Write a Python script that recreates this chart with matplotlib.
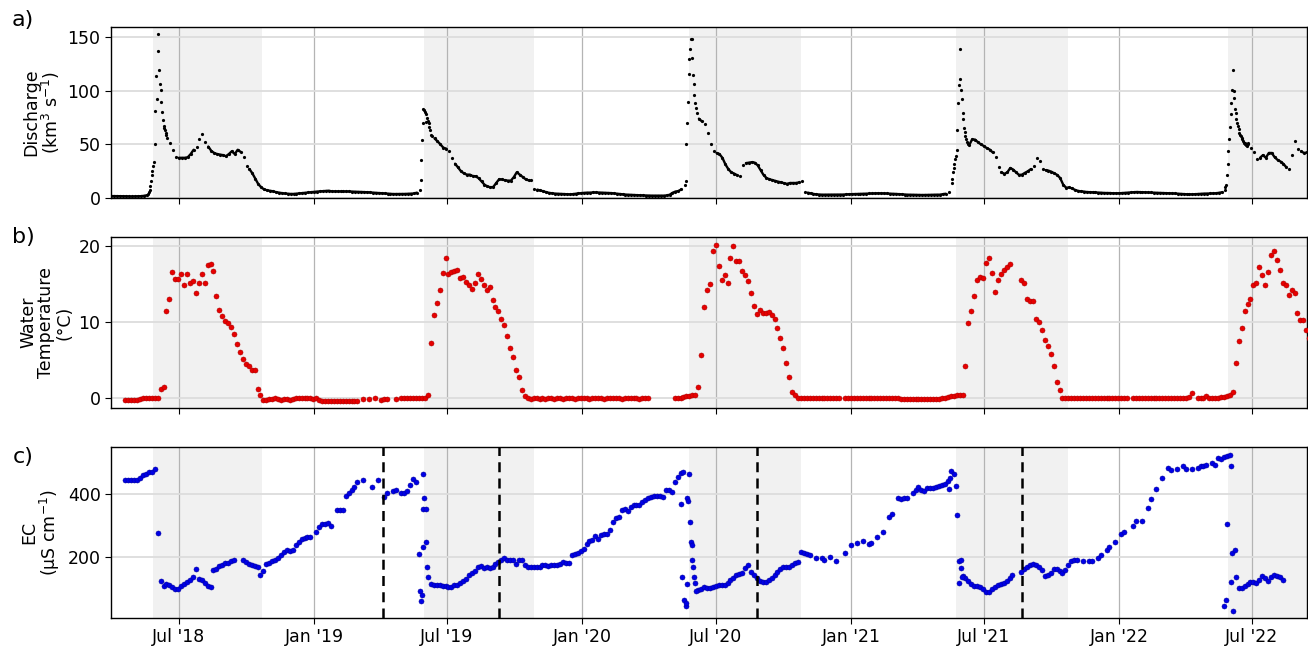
import numpy as np
import pandas as pd
import matplotlib
matplotlib.use("Agg")
import matplotlib.pyplot as plt
import matplotlib.dates as mdates

nan = np.nan

# ---------------- data ----------------
# Discharge (km3 s-1), sampled every 4 days from 2018-03-31 (NaN = freshet, given daily below)
q_start = "2018-03-31"
q_values = [
    1.8, 1.8, 1.7, 1.7, 1.6, 1.5, 1.4, 1.4, 1.5, 1.6, 1.7, 2.0, 2.5,
    nan, nan, nan, nan, nan, nan, nan,
    51, 45, 38, 37.5, 37.5, 37.5, 38, 41, 45, 48, 55, 60, 52, 48, 44, 42, 41, 40.5, 40, 39,
    41, 43.6, 41, 45, 43, 38, 30, 27, 23, 18, 13, 10, 8, 7.2, 6.8, 6.3, 5.5, 5, 4.6, 4.2,
    4, 3.8, 3.8, 4, 4.3, 4.6, 4.9, 5.2, 5.5, 5.7, 6, 6.2, 6.4, 6.6, 6.8,
    6.2, 6.2, 6.2, 6.2, 6.2, 6.1, 6.1, 6.0, 5.9, 5.8, 5.7, 5.6, 5.4, 5.2, 5.0, 4.8, 4.6,
    4.4, 4.2, 4.0, 3.8, 3.7, 3.7, 3.7, 3.8, 3.8, 3.9, 4.0, 4.2, 5.0,
    nan, nan, nan, nan, nan,
    55.5, 53, 50, 47, 46, 44, 37, 32, 28.5, 25, 23, 21.8, 21.8, 20.5, 20.3, 18.5, 15.5,
    12.5, 10.8, 10, 10.3, 14, 17.5, 17.3, 16.5, 16.2, 16.2, 19.5, 24, 21.8, 19.5, 17.5,
    16.5, 16.8,
    8.7, 7.8, 7.0, 6.2, 5.5, 4.8, 4.4, 4.1, 4.0, 3.8, 3.7, 3.5, 3.4, 3.6, 4.0, 4.3, 4.6,
    4.8, 5.0, 5.0, 5.2, 5.2, 5.1, 5.0, 5.0, 4.8, 4.6, 4.3, 4.0, 3.6, 3.4, 3.2, 3.1, 3.0,
    2.8, 2.6, 2.5, 2.4, 2.3, 2.2, 2.2, 2.2, 2.2,
    2.2, 2.2, 2.4, 3.0, 4.8, 6.0, 6.5, 8.0,
    nan, nan, nan, nan, nan,
    74, 71.5, 69, 60.5, 50, 43.6, 42, 41, 37.5, 31.5, 27, 24, 22.8, 21.3, 20.3, 31, 32.5,
    33, 33.4, 33, 30.5, 26, 21.5, 18.7, 17.5, 16.7, 16, 15.2, 14.6, 13.8, 13.2, 14, 14,
    14, 14.5, 15.5,
    6.0, 5.0, 4.4, 3.8, 3.4, 3.2, 3.1, 3.1, 3.1, 3.1, 3.1, 3.1, 3.1, 3.2, 3.4, 3.5, 3.6,
    3.7, 3.8, 4.0, 4.1, 4.1, 4.2, 4.3, 4.3, 4.4, 4.4, 4.3, 4.2, 4.0, 4.0, 3.8, 3.6, 3.4,
    3.2, 3.1, 3.1, 3.0, 2.9, 2.9, 2.8, 2.8, 2.9, 3.0, 3.0, 3.1, 3.1, 3.5, 4.0, 5.3, 14,
    nan, nan, nan, nan, nan,
    49.3, 54.6, 54.5, 52, 50, 48.5, 46.5, 45.2,
    42.5, 38.5, 29, 24, 22.5, 24, 28, 26.5, 23.8, 21.5, 21.8, 23.5, 25, 27, 30, 37.4,
    34.5, 27, 26, 25.5, 24.5, 23, 21.5, 18.5, 12.5, 9.6, 9.8, 9.0, 7.6, 6.7, 6.2, 6.0,
    5.6, 5.4, 5.3, 5.2, 5.0, 4.9, 4.7, 4.7, 4.6, 4.4, 4.4, 4.4, 4.6, 4.8, 5.1, 5.3, 5.5,
    5.6, 5.5, 5.3, 5.3, 5.3, 5.2, 5.1, 5.0, 4.9, 4.7, 4.6, 4.4, 4.3, 4.2, 4.0, 3.9, 3.7,
    3.5, 3.4, 3.4, 3.6, 3.7, 3.9, 4.1, 4.1, 4.2, 4.3, 4.4, 4.8, 5.3,
    nan, nan, nan, nan, nan, nan, nan, nan, nan,
    47, 43, 36.5, 37.5, 40, 37.5, 42, 42, 38, 35.5, 34, 31.8, 28.5, 27.5, 40, 53, 46,
    43.5, 42, 42.5,
]

# Daily discharge during the spring freshets
q_peak_2018_start = "2018-05-20"
q_peak_2018 = [4, 5.5, 7.5, 11, 16, 21, 25, 30, 34, 50, 81, 114, 92, 153, 137, 119, 106,
               101, 90, 80, 73, 67, 65, 63, 61, 59, 56]
q_peak_2019_start = "2019-05-25"
q_peak_2019 = [7.8, 17, 35, 54, 70, 83, 82, 80, 71, 78, 75, 72, 70, 66, 63, 59, 58]
q_peak_2020_start = "2020-05-20"
q_peak_2020 = [12.5, 16.2, 50.5, 70, 89.5, 116, 130, 138.8, 148.7, 148.7, 131, 115, 106,
               96, 89, 84, 79.5]
q_peak_2021_start = "2021-05-19"
q_peak_2021 = [18, 24, 28, 32, 36.5, 39, 45, 63, 89, 105, 138.8, 111, 101, 92.6, 79.5,
               73.3, 65.5, 61.4, 57.7, 54.6, 52, 50.8]
q_peak_2022_start = "2022-05-25"
q_peak_2022 = [7.8, 10, 12.5, 21, 32, 44, 55, 66, 78, 89, 101, 119, 100, 93.5, 83.3, 79.5,
               73.3, 70.2, 67, 64, 61, 59, 57.7, 56, 54.6, 53, 51.5, 51, 50, 49, 48.3, 50,
               51.5]

# Water temperature (degC) every 4 days from 2018-04-19
wt_start = "2018-04-19"
wt_values = [
    -0.2, -0.2, -0.2, -0.2, -0.2, -0.1, 0.0, 0.0, 0.0, 0.0, 0.05, 0.1,
    1.3, 1.5,
    11.5, 13.0, 16.6, 15.7, 15.7, 16.3, 14.9, 16.3, 15.2, 15.4, 13.9, 15.1, 16.3, 15.2,
    17.5, 17.6, 16.8,
    13.4, 11.6, 10.8, 10.2, 9.9, 9.4, 8.5, 7.2, 6.1, 5.2, 4.5, 4.2, 3.8, 3.7, 1.2, 0.5, -0.2,
    -0.2, -0.1, -0.1, 0.0, -0.1, -0.2, -0.1, -0.1, -0.2, -0.1, 0.0, 0.0, 0.0, 0.0, 0.0, 0.0,
    -0.1, 0.0, -0.2, -0.3, -0.3, -0.3, -0.3, -0.3, -0.3, -0.3, -0.3, -0.3, -0.3, -0.3, -0.3,
    -0.3,
    nan, -0.1, nan, -0.1, nan, 0.0, nan, -0.2, -0.1, -0.1, nan, nan, -0.1, nan, 0.0, 0.0,
    0.0, 0.0, 0.0, 0.0, 0.0, 0.0, 0.1, 0.5,
    7.3, 11.0, 12.5, 14.3, 16.5, 18.4, 16.4, 16.6, 16.8, 16.9, 15.8, 16.0, 15.3, 14.9,
    14.4, 15.1, 16.3, 15.7, 14.9, 14.3, 14.7, 12.9, 12.0, 11.5, 10.5, 9.7, 8.2, 6.6,
    5.5, 3.7, 2.8, 1.1, 0.3,
    0.0, -0.1, 0.0, 0.0, -0.1, 0.0, -0.1, 0.0, 0.0, -0.1, 0.0, 0.0, -0.1, 0.0, 0.0, 0.0,
    -0.1, 0.0, 0.0, 0.0, 0.0, -0.1, 0.0, 0.0, 0.0, 0.0, -0.1, 0.0, 0.0, 0.0, 0.0, 0.0,
    -0.1, 0.0, 0.0, 0.0, 0.0, 0.0, -0.1, 0.0, 0.0, 0.0,
    nan, nan, nan, nan, nan, nan, nan, nan,
    0.0, 0.1, 0.0, 0.2, 0.3, 0.3, 0.4, 0.5,
    1.5, 5.7, 12.0, 14.2, 15.0, 19.4, 20.2, 17.4, 15.5, 16.2, 15.2, 18.5, 20.0, 18.0, 18.0,
    16.7, 16.2, 15.4, 13.8, 12.2, 11.1, 11.6, 11.2, 11.2, 11.3, 10.9, 10.4, 9.2, 8.0, 6.6,
    4.6, 2.8, 0.9, 0.4,
    0.0, 0.0, 0.0, 0.0, 0.0, 0.0, 0.0, 0.0, 0.0, 0.0, 0.0, 0.0, 0.0, 0.0, 0.0,
    nan,
    0.0, 0.0, 0.0, 0.0, 0.0, 0.0, 0.0, 0.0, 0.0, 0.0, 0.0, 0.0, 0.0, 0.0, 0.0, 0.0, 0.0,
    0.0, 0.0,
    -0.1, -0.1, -0.1, -0.1, -0.1, -0.1, -0.1, -0.1, -0.1, -0.1, -0.1, -0.1, -0.1, -0.1,
    0.0, 0.1, 0.2, 0.3, 0.3, 0.4, 0.5, 0.5,
    4.2, 9.9, 11.5, 13.5, 15.5, 16.0, 15.8, 17.8, 18.5, 16.5, 14.0, 15.5, 16.4, 16.9,
    17.2, 17.6,
    nan, nan, nan,
    15.5, 15.1, 13.0, 12.8, 12.8, 10.4, 10.0, 9.0, 7.7, 6.9, 5.8, 4.2, 2.2, 1.1, 0.0,
    0.0, 0.0, 0.0, 0.0, 0.0, 0.0, 0.0, 0.0, 0.0, 0.0, 0.0, 0.0, 0.0, 0.0, 0.0, 0.0, 0.0,
    0.0, 0.0, 0.0, 0.0, 0.0,
    nan,
    0.0, 0.0, 0.0, 0.0, 0.0, 0.0, 0.0, 0.0, 0.0, 0.0, 0.0, 0.0, 0.0, 0.0, 0.0, 0.0, 0.0,
    0.0, 0.0,
    0.2, 0.7, nan, 0.0, 0.0, 0.1, 0.3, 0.1, 0.1, 0.1, 0.1, 0.2, 0.2, 0.3, 0.4, 0.8,
    4.6, 7.5, 9.2, 11.5, 12.4, 13.1, 14.9, 15.1, 17.3, 16.2, 14.9, 16.6, 18.8, 19.3, 18.2,
    16.9, 15.2, 14.9, 13.6, 14.2, 13.8, 11.2, 10.3, 10.3, 9.0, 8.0,
]

# Electrical conductivity (uS cm-1) every 4 days from 2018-04-19
ec_start = "2018-04-19"
ec_values = [
    446, 446, 445, 445, 447, 453, 460, 465, 470, 472, 480,
    275,
    123, 106, 114, 111, 104, 98, 98, 106, 112, 118, 126, 134, 160, 128, 127, 116, 106, 104,
    157, 162, 170, 175, 179, 181, 185, 189,
    nan, nan,
    188, 183, 176, 173, 171, 168, 141, 154, 176, 180, 186, 190, 197, 205, 214, 220, 218,
    222, 238, 248, 258, 260, 262, 264,
    nan,
    278, 295, 305, 306, 307, 298, nan, 348, 348, 348, 395, 405, 415, 422, 438,
    nan, 444, nan, nan, 422, nan, 444, nan, 390, 403, nan, 410, 412, nan, 403, 403, 410,
    430, 448, 440,
    nan, nan, nan, nan,
    112, 109, 110, 110, 107, 107, 104, 104, 108, 111, 116, 121, 128, 140, 148, 155, 167,
    170, 164, 168, 163, 166, 176, 183, 190, 195, 190, 189,
    189, 178, 189, 191, 175, 168, 166, 168, 168, 166, 172, 174, 170, 172, 175, 172, 178,
    183, 179, 181, 204, 210, 213, 218, 226, 240, 249, 253, 266, 256, 270, 274, 273, 285,
    310, 325, 328, 350, 354, 345, 360, 366, 366, 367, 374, 382, 387, 390, 393, 394, 394,
    392, 414, 414, 406, 440, 455, 468, 471,
    nan, nan, nan, nan,
    94, 97, 102, 100, 99, 104, 106, 108, 109, 111, 117, 124, 131, 140, 144, 147, 165, 175,
    152, 142, 131, 122, 118, 120, 124, 132, 140, 150, 160, 168, 168, 166, 173, 179, 184,
    214, 211, 208, 205, nan, 195, nan, 195, 188, nan, 198, nan, 187, nan, nan, 211, nan,
    238, nan, 243, nan, 251, nan, 240, 245, nan, 262, nan, 280, nan, 328, 336, nan, 387,
    384,
    387, 387, nan, 405, 415, 422, 415, 410, 420, 421, 419, 422, 425, 430, 433, 443,
    nan, nan, nan, nan,
    137, 132, 122, 112, 107, 105, 102, 96, 88, 88, 98, 104, 110, 113, 117, 122, 132, 142,
    nan, nan,
    150, 160, 168, 174, 176, 172, 166, 158, 138, 140, 148, 160, 162, 155, 148, 158, 172,
    185, 190, 191, nan, 187, nan, 185, 187, nan, 195, 207, nan, 220, 230, nan, 248, nan,
    273, 278, nan, nan, 298, 315, nan, 315, nan, 355, 384, nan, 416, nan, 453, nan, 483,
    476, nan, 481, nan, 490, 482, nan, 481, nan, 484, 490, 491, 494, nan, 500, 494, 516,
    513, 520, 522, 526,
    nan, nan,
    100, 101, 105, 112, 118, 118, 115, 126, 137, 133, 122, 135, 141, 139, 135, 125,
]

# Extra EC samples during the freshet drops (days after ec_start, value)
ec_freshet_days = [400.1, 401.5, 402.4, 403.3, 404.7, 406.0, 406.0, 406.9, 409.2, 409.2,
                   410.6, 411.5,
                   756.0, 758.3, 760.6, 762.8, 763.3, 765.1, 765.1, 766.5, 767.4, 768.7,
                   770.1, 771.0, 771.9, 773.3, 774.2, 775.6, 776.5,
                   1121.3, 1122.7, 1124.5, 1128.1, 1130.4, 1132.6, 1134.9, 1137.2, 1137.2,
                   1134.9, 1139.5,
                   1496.1, 1498.4, 1500.7, 1505.2, 1506.1, 1507.5, 1508.8, 1510.6, 1512.0]
ec_freshet_vals = [209, 91, 59, 77, 352, 464, 231, 387, 352, 248, 168, 134,
                   368, 134, 63, 42, 51, 114, 387, 379, 465, 310, 248, 237, 191, 168,
                   136, 117, 90,
                   416, 453, 475, 464, 426, 332, 187, 191, 163, 117, 136,
                   43, 61, 305, 120, 489, 211, 27, 221, 134]

# Shaded summer periods and event dates
summer_periods = [("2018-05-27", "2018-10-22"), ("2019-05-31", "2019-10-28"),
                  ("2020-05-26", "2020-10-25"), ("2021-05-24", "2021-10-24"),
                  ("2022-05-30", "2022-10-01")]
event_dates = ["2019-04-05", "2019-09-10", "2020-08-26", "2021-08-22"]

x_range = ("2018-03-30 12:00", "2022-09-14")

# ---------------- figure ----------------
plt.rcParams["font.family"] = ["DejaVu Sans"]
FS = 12.5

W, H = 1308, 649
fig = plt.figure(figsize=(W / 100, H / 100), dpi=100)
left = 111 / W
width = (1307 - 111) / W
hgt = 171 / H
axa = fig.add_axes([left, 1 - 198 / H, width, hgt])
axb = fig.add_axes([left, 1 - 408 / H, width, hgt], sharex=axa)
axc = fig.add_axes([left, 1 - 618 / H, width, hgt], sharex=axa)

q_dates = pd.date_range(q_start, periods=len(q_values), freq="4D")
wt_dates = pd.date_range(wt_start, periods=len(wt_values), freq="4D")
ec_dates = pd.date_range(ec_start, periods=len(ec_values), freq="4D")
ec_fr_dates = pd.Timestamp(ec_start) + pd.to_timedelta(ec_freshet_days, unit="D")

for ax in (axa, axb, axc):
    for s, e in summer_periods:
        ax.axvspan(pd.Timestamp(s), pd.Timestamp(e), color="#f1f1f1", lw=0, zorder=0)
    ax.grid(axis="x", color="#b4b4b4", lw=0.9)
    ax.grid(axis="y", color="#dcdcdc", lw=1.3)
    for sp in ax.spines.values():
        sp.set_linewidth(1.0)
    ax.tick_params(labelsize=FS, length=4)

# a) discharge: dense daily-looking record drawn as dots joined where the record is smooth
q_arr = np.asarray(q_values, dtype=float)
q_line = q_arr.copy()
jump = np.abs(np.diff(q_arr)) > 6
q_line[1:][jump] = nan
q_line[:-1][jump] = nan
axa.plot(q_dates, q_line, "-", lw=1.7, color="black", zorder=3, solid_capstyle="round")
axa.plot(q_dates, q_values, "o", ms=2.3, mew=0, color="black", zorder=3)
for st, vals in [(q_peak_2018_start, q_peak_2018), (q_peak_2019_start, q_peak_2019),
                 (q_peak_2020_start, q_peak_2020), (q_peak_2021_start, q_peak_2021),
                 (q_peak_2022_start, q_peak_2022)]:
    d = pd.date_range(st, periods=len(vals), freq="D")
    axa.plot(d, vals, "o", ms=2.3, mew=0, color="black", zorder=3)
axa.set_ylim(0, 159.5)
axa.set_yticks([0, 50, 100, 150])
axa.set_ylabel("Discharge\n(km$^3$ s$^{-1}$)", fontsize=FS, linespacing=1.0)

# b) water temperature
axb.plot(wt_dates, wt_values, "o", ms=3.6, mew=0.4, color="#e60000", mec="#b00000",
         zorder=3)
axb.set_ylim(-1.25, 21.2)
axb.set_yticks([0, 10, 20])
axb.set_ylabel("Water\nTemperature\n(°C)", fontsize=FS, linespacing=1.0)

# c) EC
axc.plot(ec_dates, ec_values, "o", ms=3.6, mew=0.4, color="#0000e6", mec="#0000a0",
         zorder=3)
axc.plot(ec_fr_dates, ec_freshet_vals, "o", ms=3.6, mew=0.4, color="#0000e6",
         mec="#0000a0", zorder=3)
for d in event_dates:
    axc.axvline(pd.Timestamp(d), color="black", ls=(0, (4, 2.5)), lw=1.8, zorder=4)
axc.set_ylim(4, 551)
axc.set_yticks([200, 400])
axc.set_ylabel("EC\n(µS cm$^{-1}$)", fontsize=FS, linespacing=1.0)

axc.set_xlim(pd.Timestamp(x_range[0]), pd.Timestamp(x_range[1]))
axc.xaxis.set_major_locator(mdates.MonthLocator(bymonth=[1, 7]))
axc.xaxis.set_major_formatter(mdates.DateFormatter("%b '%y"))
axa.tick_params(labelbottom=False)
axb.tick_params(labelbottom=False)

for lab, yp in [("a)", 20), ("b)", 237), ("c)", 457)]:
    fig.text(23 / W, 1 - yp / H, lab, fontsize=16, ha="center", va="center")

fig.savefig("out.png", dpi=100)
